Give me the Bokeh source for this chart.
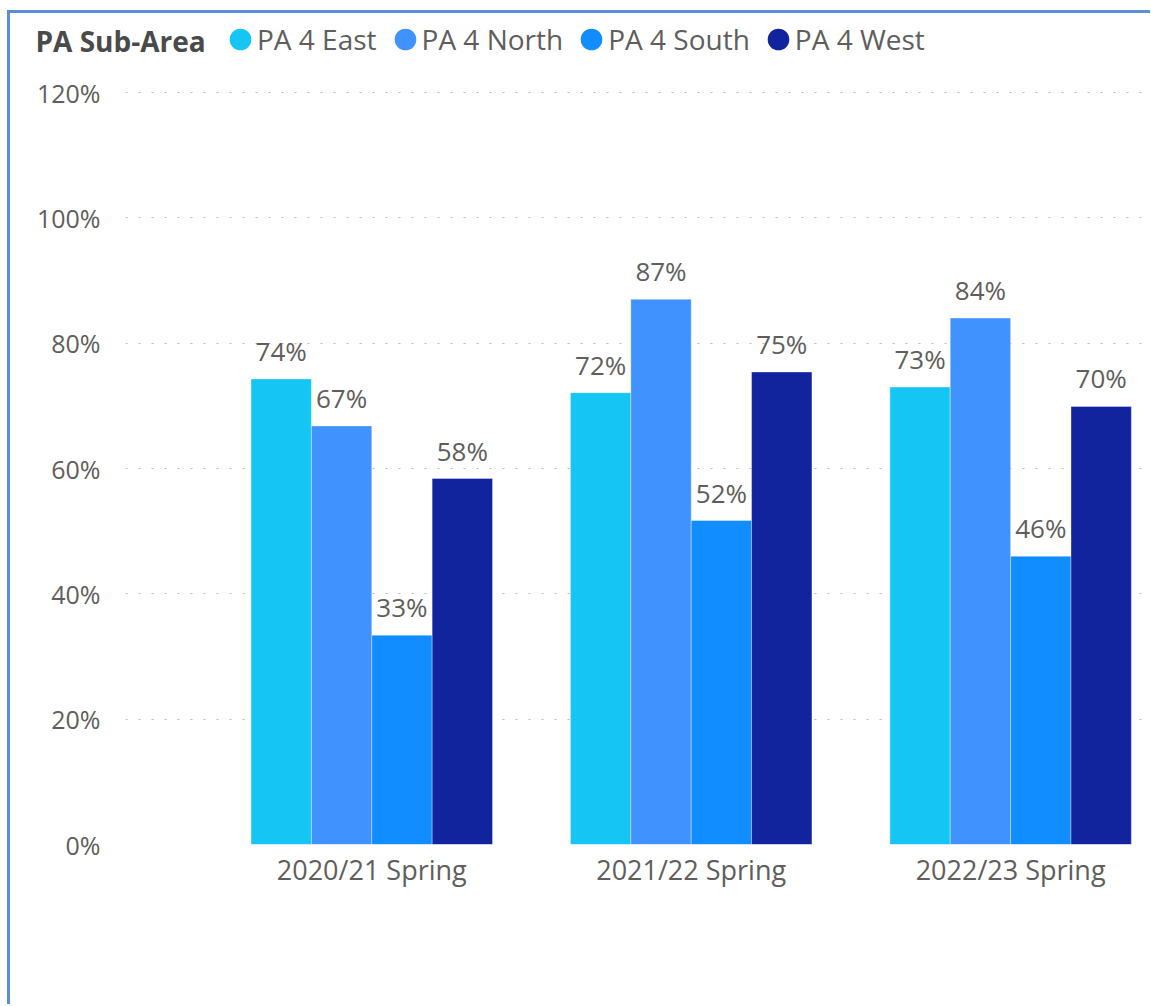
import math
from bokeh.plotting import figure
from bokeh.layouts import column
from bokeh.models import (ColumnDataSource, FixedTicker, Legend, LegendItem,
                          LabelSet, Label, Range1d)
from bokeh.core.properties import value
from bokeh.transform import dodge
from bokeh.embed import file_html
from bokeh.resources import INLINE

# ---------------- data ----------------
categories = ["2020/21 Spring", "2021/22 Spring", "2022/23 Spring"]
series_names = ["PA 4 East", "PA 4 North", "PA 4 South", "PA 4 West"]
east = [74.3, 72.1, 73.0]
north = [66.8, 87.0, 84.0]
south = [33.4, 51.7, 46.0]
west = [58.4, 75.4, 69.9]
y_ticks = [0, 20, 40, 60, 80, 100, 120]
y_tick_labels = ["0%", "20%", "40%", "60%", "80%", "100%", "120%"]
legend_title = "PA Sub-Area"

colors = ["#15C6F4", "#4092FF", "#118DFF", "#12239E"]

TEXT = "#605E5C"
FONT = "Open Sans"
BORDER = "3px solid #5B8FD5"

# ---------------- legend strip (top figure) ----------------
top = figure(width=1143, height=61, output_backend="svg", toolbar_location=None,
             x_range=Range1d(0, 1), y_range=Range1d(0, 1),
             x_axis_type=None, y_axis_type=None,
             min_border_left=0, min_border_right=0, min_border_top=0,
             min_border_bottom=0,
             styles={"border-left": BORDER, "border-top": BORDER})
top.outline_line_color = None
top.grid.visible = False

items = []
for name, c in zip(series_names, colors):
    d = top.scatter(x=[math.nan], y=[math.nan], marker="circle",
                    fill_color=c, line_color=c, line_width=8)
    items.append(LegendItem(label=name, renderers=[d]))

legend = Legend(items=items, orientation="horizontal", location=(213, 16),
                glyph_width=34, glyph_height=34, label_standoff=0, spacing=11,
                padding=0, margin=0, border_line_color=None,
                background_fill_alpha=0, label_text_font=FONT,
                label_text_font_size="28px", label_text_color=TEXT,
                label_text_baseline="middle")
top.add_layout(legend, "center")

title = Label(x=25, y=34, x_units="screen", y_units="screen", text=legend_title,
              text_font=FONT, text_font_size="28px", text_font_style="bold",
              text_color="#4A4A4A", text_baseline="middle", text_align="left")
top.add_layout(title)

# ---------------- bar chart (bottom figure) ----------------
src = ColumnDataSource(dict(
    xi=list(range(len(categories))),
    east=east, north=north, south=south, west=west,
    east_lbl=[f"{v:.0f}%" for v in east],
    north_lbl=[f"{v:.0f}%" for v in north],
    south_lbl=[f"{v:.0f}%" for v in south],
    west_lbl=[f"{v:.0f}%" for v in west],
))
cols = ["east", "north", "south", "west"]

p = figure(width=1143, height=933, output_backend="svg", toolbar_location=None,
           x_range=Range1d(-0.771, 2.416), y_range=Range1d(0, 120.48),
           min_border_left=115, min_border_top=18, min_border_right=10,
           min_border_bottom=160,
           styles={"border-left": BORDER})
p.outline_line_color = None
p.background_fill_color = "white"
p.border_fill_color = "white"

for fig in (top, p):
    try:
        fig.frame_align = False
    except Exception:
        pass

bar_w = 0.189
for i, (c, col) in enumerate(zip(colors, cols)):
    off = (i - 1.5) * bar_w
    p.vbar(x=dodge("xi", off, range=p.x_range), top=col, width=bar_w,
           bottom=0, source=src, fill_color=c, line_color="white",
           line_alpha=0.35, line_width=1)
    lbl = LabelSet(x=dodge("xi", off, range=p.x_range), y=col,
                   text=col + "_lbl", source=src, text_align="center",
                   text_baseline="alphabetic", y_offset=18,
                   text_font=value(FONT), text_font_size=value("26px"),
                   text_color=TEXT)
    p.add_layout(lbl)

p.yaxis.ticker = FixedTicker(ticks=y_ticks)
p.yaxis.major_label_overrides = {t: l for t, l in zip(y_ticks, y_tick_labels)}
p.yaxis.axis_line_color = None
p.yaxis.major_tick_line_color = None
p.yaxis.minor_tick_line_color = None
p.yaxis.major_label_standoff = 19
p.yaxis.major_label_text_font = FONT
p.yaxis.major_label_text_font_size = "25px"
p.yaxis.major_label_text_color = TEXT

p.xaxis.ticker = FixedTicker(ticks=list(range(len(categories))))
p.xaxis.major_label_overrides = {i: c for i, c in enumerate(categories)}
p.xaxis.axis_line_color = None
p.xaxis.major_tick_line_color = None
p.xaxis.minor_tick_line_color = None
p.xaxis.major_label_standoff = 0
p.xaxis.major_label_text_font = FONT
p.xaxis.major_label_text_font_size = "27px"
p.xaxis.major_label_text_color = TEXT

p.xgrid.grid_line_color = None
p.ygrid.grid_line_color = "#BDBBB9"
p.ygrid.grid_line_dash = "2 11"
p.ygrid.grid_line_width = 1.2

layout = column(top, p, spacing=0,
                styles={"margin-left": "7px", "margin-top": "10px"})

open("out.html", "w").write(file_html(layout, INLINE))
